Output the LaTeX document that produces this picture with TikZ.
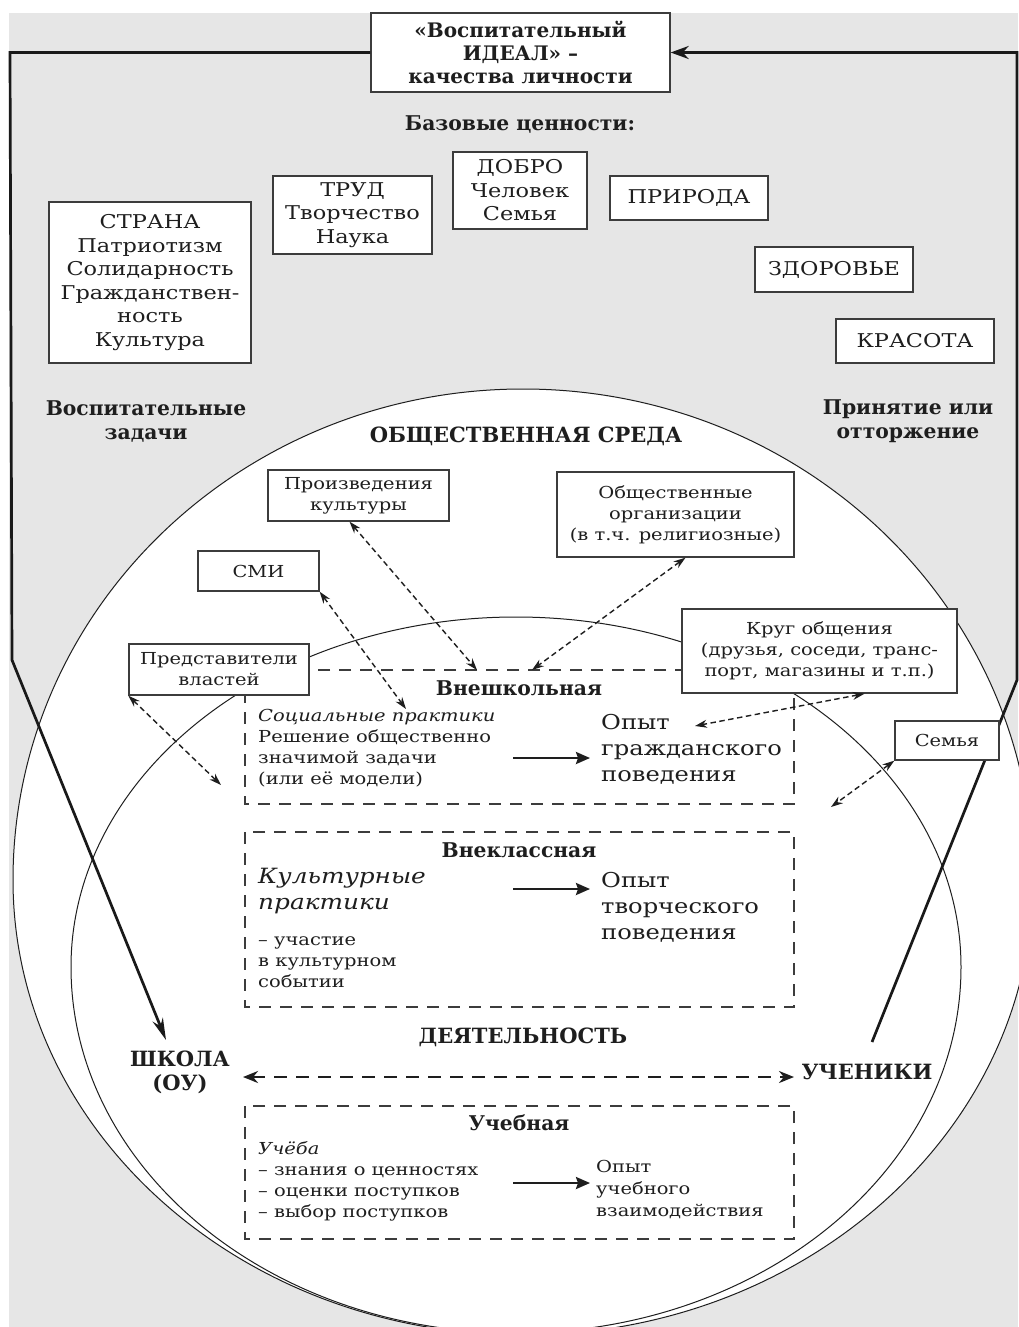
\documentclass[tikz,border=0pt]{standalone}
\usepackage{fontspec}
\setmainfont{DejaVu Serif}[FakeStretch=1.18]
\newfontfamily\hd{DejaVu Serif}
\usetikzlibrary{arrows.meta,calc}
\definecolor{bg}{RGB}{230,230,230}
\definecolor{ink}{RGB}{30,30,30}
\definecolor{frame}{RGB}{60,60,60}
\newcommand\fsz[2]{\fontsize{#1}{#2}\selectfont}
\begin{document}
\begin{tikzpicture}[x=1pt,y=-1pt,
  box/.style={draw=frame,line width=1.3pt,fill=white,inner sep=0pt,align=center,text=ink},
  bigtxt/.style={font=\fsz{19}{23.5}},
  smalltxt/.style={font=\fsz{16.5}{21}},
  hdr/.style={font=\hd\bfseries\fsz{20.3}{24},text=ink,inner sep=0pt,align=center},
  caphdr/.style={font=\hd\bfseries\fsz{21}{24},text=ink,inner sep=0pt,align=center},
  plain/.style={text=ink,inner sep=0pt,align=left,anchor=west},
  dbox/.style={draw=frame,line width=1.4pt,dash pattern=on 12pt off 9pt},
  dots/.style={draw=ink,line width=1.4pt,dash pattern=on 5.5pt off 3.5pt,
    {Stealth[length=12pt,width=8pt]}-{Stealth[length=12pt,width=8pt]}},
  sarrow/.style={draw=ink,line width=2.4pt,-{Stealth[length=14pt,width=12pt,inset=2pt]}},
  thickline/.style={draw=black!90,line width=2.7pt},
  biga/.style={draw=ink,line width=2.5pt,dash pattern=on 13pt off 9pt,
    {Stealth[length=15pt,width=12pt]}-{Stealth[length=15pt,width=12pt]}}
]
% canvas
\useasboundingbox (0,0) rectangle (1018,1327);
\fill[white] (0,0) rectangle (1018,1327);
\fill[bg] (9,13) rectangle (1018,1327);

% outer environment shape
\filldraw[fill=white,draw=ink,line width=1pt]
  (13,880) arc[start angle=180,end angle=360,x radius=510,y radius=491]
           arc[start angle=0,end angle=180,x radius=510,y radius=455] -- cycle;
% inner activity shape
\draw[draw=ink,line width=1pt]
  (71,967) arc[start angle=180,end angle=360,x radius=445,y radius=350]
           arc[start angle=0,end angle=180,x radius=445,y radius=366] -- cycle;

% top node
\node[box,minimum width=299pt,minimum height=79pt,font=\hd\bfseries\fsz{20}{23}] (ideal) at (520.5,52.5)
  {«Воспитательный\\ИДЕАЛ» –\\качества личности};

% thick feedback lines
\coordinate (l1) at (10,52.5);
\coordinate (l2) at (12,660);
\coordinate (schooltip) at (166,1040);
\coordinate (r0) at (872,1042);
\coordinate (r1) at (1017,680);
\coordinate (r2) at (1017,52.5);
\draw[thickline,-{Stealth[length=22pt,width=11pt]}] (ideal.west) -- (l1) -- (l2) -- (schooltip);
\draw[thickline,-{Stealth[length=18pt,width=13pt]}] (r0) -- (r1) -- (r2) -- (ideal.east);

% dashed activity frames
\draw[dbox] (245,670) rectangle (794,804);
\draw[dbox] (245,832) rectangle (794,1007);
\draw[dbox] (245,1106) rectangle (794,1239);

% value boxes
\node[box,bigtxt,minimum width=202pt,minimum height=161pt] (strana) at (150,282.5)
  {СТРАНА\\Патриотизм\\Солидарность\\Гражданствен-\\ность\\Культура};
\node[box,bigtxt,minimum width=159pt,minimum height=78pt] (trud) at (352.5,215)
  {ТРУД\\Творчество\\Наука};
\node[box,bigtxt,minimum width=134pt,minimum height=77pt] (dobro) at (520,190.5)
  {ДОБРО\\Человек\\Семья};
\node[box,bigtxt,minimum width=158pt,minimum height=44pt] (priroda) at (689,198) {ПРИРОДА};
\node[box,bigtxt,minimum width=158pt,minimum height=45pt] (zdorovie) at (834,269.5) {ЗДОРОВЬЕ};
\node[box,bigtxt,minimum width=158pt,minimum height=44pt] (krasota) at (915,341) {КРАСОТА};

\node[hdr] (bazovye) at (520,125) {Базовые ценности:};
\node[hdr] (zadachi) at (146,421) {Воспитательные\\задачи};
\node[hdr] (prinyatie) at (908,421) {Принятие или\\отторжение};
\node[caphdr] (sreda) at (526,436) {ОБЩЕСТВЕННАЯ СРЕДА};

% coordinates for dotted links
\coordinate (e1) at (477,670);
\coordinate (e2) at (532,670);
\coordinate (e3) at (406,709);
\coordinate (e4) at (221,785);
\coordinate (e5) at (695,726);
\coordinate (e6) at (831,807);

% environment boxes
\node[box,smalltxt,minimum width=181pt,minimum height=51pt] (proizv) at (358.5,495.5)
  {Произведения\\культуры};
\node[box,smalltxt,minimum width=237pt,minimum height=85pt] (obshch) at (675.5,514.5)
  {Общественные\\организации\\(в т.ч. религиозные)};
\node[box,smalltxt,minimum width=121pt,minimum height=40pt] (smi) at (258.5,571) {СМИ};
\node[box,smalltxt,minimum width=275pt,minimum height=84pt] (krug) at (819.5,651)
  {Круг общения\\(друзья, соседи, транс-\\порт, магазины и т.п.)};
\node[box,smalltxt,minimum width=180pt,minimum height=51pt] (vlast) at (219,669.5)
  {Представители\\властей};
\node[box,smalltxt,minimum width=104pt,minimum height=39pt] (semya) at (947,740.5) {Семья};

\draw[dots] ($(proizv.south)+(-9,0)$) -- (e1);
\draw[dots] ($(obshch.south)+(10,0)$) -- (e2);
\draw[dots] (smi.south east) -- (e3);
\draw[dots] (vlast.south west) -- (e4);
\draw[dots] ($(krug.south east)+(-93,0)$) -- (e5);
\draw[dots] (semya.south west) -- (e6);

% Внешкольная
\node[hdr] (vneshk) at (519,688) {Внешкольная};
\node[plain,font=\fsz{16.5}{21}] (socpr) at (258,748)
  {{\itshape Социальные практики}\\Решение общественно\\значимой задачи\\(или её модели)};
\node[plain,font=\fsz{20.5}{26}] (opyt1) at (601,749) {Опыт\\гражданского\\поведения};
\coordinate (a1s) at (513,758); \coordinate (a1e) at (590,758);
\draw[sarrow] (a1s) -- (a1e);

% Внеклассная
\node[hdr] (vnekl) at (519,850) {Внеклассная};
\node[plain,font=\itshape\fsz{21}{26}] (kultpr) at (258,891) {Культурные\\практики};
\node[plain,font=\fsz{16.5}{21}] (uchast) at (258,962) {– участие\\в культурном\\событии};
\node[plain,font=\fsz{20.5}{26}] (opyt2) at (601,907) {Опыт\\творческого\\поведения};
\coordinate (a2s) at (513,889); \coordinate (a2e) at (590,889);
\draw[sarrow] (a2s) -- (a2e);

% ДЕЯТЕЛЬНОСТЬ, школа, ученики
\node[caphdr] (deyat) at (523,1037) {ДЕЯТЕЛЬНОСТЬ};
\node[caphdr] (shkola) at (180,1072) {ШКОЛА\\(ОУ)};
\node[caphdr] (ucheniki) at (867,1072) {УЧЕНИКИ};
\coordinate (b1) at (243,1077); \coordinate (b2) at (794,1077);
\draw[biga] (b1) -- (b2);

% Учебная
\node[hdr] (uchebn) at (519,1123) {Учебная};
\node[plain,font=\fsz{16.5}{21}] (ucheba) at (258,1181)
  {{\itshape Учёба}\\– знания о ценностях\\– оценки поступков\\– выбор поступков};
\node[plain,font=\fsz{16.5}{22}] (opyt3) at (596,1190) {Опыт\\учебного\\взаимодействия};
\coordinate (a3s) at (513,1183); \coordinate (a3e) at (590,1183);
\draw[sarrow] (a3s) -- (a3e);
\end{tikzpicture}
\end{document}
